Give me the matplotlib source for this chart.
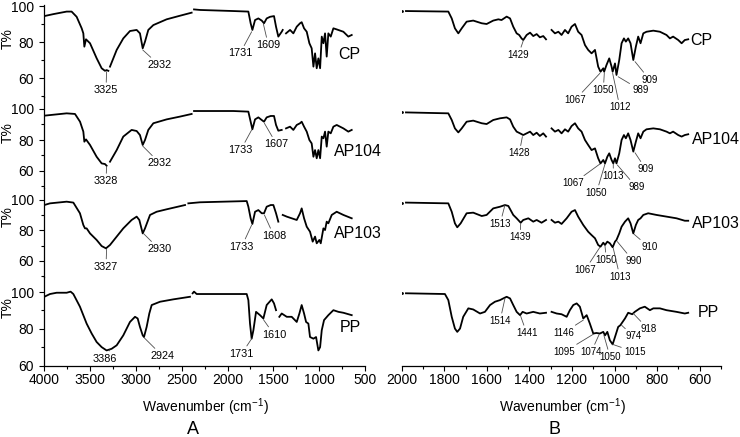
import numpy as np
import matplotlib.pyplot as plt
from matplotlib.ticker import MultipleLocator

plt.rcParams['font.family'] = ['Liberation Sans', 'DejaVu Sans']
plt.rcParams['mathtext.fontset'] = 'custom'
plt.rcParams['mathtext.rm'] = 'Liberation Sans'
plt.rcParams['mathtext.it'] = 'Liberation Sans'
plt.rcParams['mathtext.default'] = 'regular'

nan = np.nan
samples = ['CP', 'AP104', 'AP103', 'PP']

# ---- panel A: 4000-650 cm-1 ----
wn_a_cp = [4000, 3900, 3756, 3702, 3647, 3592, 3574, 3563, 3545, 3501, 3429, 3374, 3338, 3320, 3301, nan,
           3283, 3210, 3138, 3065, 2992, 2956, 2926, 2901, 2865, 2810, 2665, 2519, 2392, nan, 2366, 2300,
           1937, 1773, 1748, 1729, 1700, 1664, 1627, 1602, 1573, 1536, 1493, 1471, 1446, 1409, 1398, nan,
           1362, 1318, 1282, 1245, 1209, 1191, 1165, 1136, 1107, 1082, 1063, 1045, 1027, 1009, 990, 972,
           954, 936, 918, 900, 874, 845, 809, 736, 682, 645]
t_a_cp = [94.4, 95.5, 96.9, 96.9, 94.0, 87.6, 84.8, 77.4, 81.5, 79.3, 71.0, 65.4, 64.0, 64.4, 64.0, nan,
          66.3, 75.6, 82.0, 86.1, 86.7, 84.8, 76.5, 80.2, 86.7, 89.4, 92.6, 94.6, 96.3, nan, 98.1, 97.8,
          97.2, 96.9, 90.4, 86.7, 92.2, 93.1, 91.9, 90.4, 93.1, 94.0, 94.4, 88.5, 83.0, 85.7, 86.7, nan,
          84.8, 86.7, 84.8, 88.5, 90.4, 91.0, 87.6, 85.7, 79.3, 76.5, 66.3, 73.7, 65.4, 70.9, 65.4, 83.0,
          79.3, 84.8, 71.9, 84.8, 83.0, 87.6, 87.0, 85.7, 83.0, 83.9]

wn_a_ap104 = [4000, 3756, 3665, 3610, 3574, 3563, 3545, 3501, 3429, 3374, 3338, 3320, nan, 3283, 3210,
              3138, 3047, 2992, 2956, 2926, 2901, 2865, 2810, 2665, 2519, 2392, nan, 2366, 1937, 1773,
              1748, 1729, 1700, 1664, 1627, 1602, 1573, 1529, 1493, 1471, 1446, 1409, nan, 1362, 1318,
              1282, 1245, 1209, 1191, 1165, 1136, 1107, 1082, 1063, 1045, 1027, 1009, 990, 972, 954,
              936, 918, 900, 874, 845, 809, 736, 682, 645]
t_a_ap104 = [95.7, 97.2, 96.8, 91.8, 85.4, 78.9, 80.4, 76.8, 69.2, 64.9, 64.5, 63.4, nan, 66.0, 73.5,
             82.2, 86.5, 85.8, 83.2, 76.8, 80.0, 86.5, 90.8, 93.3, 95.1, 96.8, nan, 98.7, 98.7, 98.3,
             91.8, 86.9, 93.3, 94.6, 92.9, 91.8, 94.6, 95.5, 95.5, 89.7, 86.0, 86.5, nan, 87.5, 88.6,
             86.5, 89.7, 90.8, 91.8, 88.6, 85.4, 80.0, 77.8, 69.2, 73.5, 68.2, 73.5, 68.2, 82.2, 81.1,
             85.4, 75.7, 85.4, 84.3, 88.6, 89.7, 87.5, 85.4, 86.5]

wn_a_ap103 = [4000, 3938, 3756, 3683, 3611, 3574, 3556, 3538, 3501, 3429, 3374, 3327, 3283, 3210, 3138,
              3047, 2992, 2963, 2926, 2901, 2846, 2774, 2665, 2464, nan, 2428, 2301, 1791, 1773, 1748,
              1729, 1700, 1664, 1627, 1602, 1573, 1529, 1500, 1471, 1446, nan, 1398, 1354, 1300, 1245,
              1209, 1191, 1165, 1136, 1100, 1071, 1045, 1027, 998, 983, 954, 936, 918, 900, 863,
              809, 736, 645]
t_a_ap103 = [96.7, 97.8, 98.9, 98.3, 91.3, 83.6, 81.4, 81.4, 78.1, 73.8, 69.8, 68.3, 70.5, 76.0, 81.4,
             86.9, 89.1, 86.9, 78.1, 81.4, 90.2, 92.3, 93.9, 96.7, nan, 97.8, 98.5, 99.3, 95.6, 88.0,
             84.3, 92.3, 93.4, 91.3, 91.3, 95.6, 96.7, 96.7, 91.3, 85.8, nan, 90.2, 89.1, 88.0, 86.9,
             91.3, 94.5, 88.0, 82.5, 79.2, 72.7, 76.0, 71.6, 73.8, 71.6, 81.4, 80.3, 85.8, 84.7, 90.2,
             92.3, 90.2, 88.0]

wn_a_pp = [4000, 3938, 3865, 3756, 3713, 3683, 3611, 3538, 3483, 3429, 3374, 3320, 3265, 3210, 3138,
           3065, 3010, 2981, 2956, 2926, 2912, 2883, 2854, 2828, 2737, 2592, 2410, nan, 2381, 2366,
           2337, 1791, 1773, 1755, 1737, 1718, 1689, 1646, 1609, 1573, 1518, 1493, 1471, nan, 1435,
           1409, 1354, 1300, 1245, 1216, 1191, 1165, 1143, 1118, 1100, 1063, 1034, 1009, 990, 972,
           947, 900, 845, 790, 736, 645]
t_a_pp = [97.4, 98.9, 99.6, 99.6, 100.2, 98.9, 92.0, 82.8, 77.4, 72.8, 70.0, 68.2, 69.1, 71.0, 76.4,
          83.7, 86.5, 85.6, 81.0, 76.4, 75.5, 81.0, 88.3, 92.9, 94.7, 96.0, 97.4, nan, 99.3, 100.2,
          98.9, 98.9, 95.6, 82.8, 74.6, 79.2, 89.2, 87.4, 85.6, 92.9, 96.0, 93.8, 90.1, nan, 86.5,
          88.3, 86.5, 86.5, 83.7, 88.3, 92.9, 88.3, 83.7, 82.8, 75.5, 74.6, 75.5, 68.2, 70.0, 79.2,
          84.7, 87.4, 90.1, 89.2, 88.7, 87.4]

# ---- panel B: 2000-650 cm-1 ----
wn_b_cp = [2000, nan, 1980, 1781, 1765, 1750, 1734, 1718, 1695, 1664, 1624, 1601, 1570, 1546, 1531,
           1507, 1491, 1476, 1460, 1448, 1437, 1429, 1413, 1397, 1382, 1366, 1351, 1335, 1322, nan,
           1296, 1280, 1264, 1249, 1233, 1218, 1202, 1186, 1171, 1155, 1139, 1124, 1108, 1092, 1077,
           1066, 1053, 1049, 1038, 1025, 1014, 1009, 998, 991, 978, 967, 956, 947, 936, 925,
           912, 900, 889, 878, 865, 850, 818, 787, 756, 740, 725, 701, 685, 670, 654]
t_b_cp = [97.2, nan, 97.2, 96.9, 93.1, 87.6, 84.8, 87.6, 91.3, 91.9, 90.4, 90.0, 91.9, 92.6, 92.2,
          94.1, 93.1, 88.5, 84.8, 83.9, 82.0, 81.1, 83.9, 85.2, 83.3, 84.4, 82.6, 83.3, 81.5, nan,
          86.7, 84.8, 85.7, 83.9, 86.7, 84.8, 88.5, 90.0, 85.7, 83.9, 78.3, 75.6, 73.7, 75.6, 66.3,
          63.5, 65.4, 63.5, 67.2, 70.9, 66.3, 63.5, 68.1, 61.7, 70.0, 79.3, 82.0, 80.2, 82.0, 79.3,
          70.0, 77.4, 83.0, 79.3, 84.8, 85.7, 86.3, 85.7, 83.9, 82.0, 83.0, 81.1, 79.3, 81.1, 81.5]

wn_b_ap104 = [2000, nan, 1980, 1781, 1765, 1750, 1734, 1718, 1695, 1664, 1624, 1601, 1570, 1538, 1507,
              1491, 1476, 1460, 1444, 1429, 1413, 1397, 1382, 1366, 1351, 1335, 1322, nan, 1296, 1280,
              1264, 1249, 1233, 1218, 1202, 1186, 1171, 1155, 1139, 1124, 1108, 1092, 1077, 1066, 1053,
              1045, 1034, 1025, 1014, 1006, 998, 991, 978, 967, 956, 947, 936, 925, 912, 900,
              889, 878, 865, 850, 818, 787, 756, 740, 725, 701, 685, 670, 654]
t_b_ap104 = [97.8, nan, 97.8, 97.2, 92.9, 87.5, 84.9, 87.5, 91.8, 92.5, 90.8, 90.3, 92.9, 94.0, 94.6,
             93.3, 88.6, 85.4, 84.3, 83.2, 84.3, 85.4, 83.2, 84.7, 82.6, 84.3, 82.2, nan, 87.5, 85.4,
             86.5, 84.3, 86.9, 85.4, 89.0, 90.8, 87.5, 85.4, 80.0, 76.8, 73.5, 74.6, 68.2, 64.9, 67.1,
             64.9, 69.2, 71.4, 67.1, 64.9, 68.2, 64.9, 71.4, 80.0, 83.2, 81.1, 84.3, 80.0, 72.5, 78.9,
             84.3, 81.1, 85.4, 86.9, 87.5, 86.9, 85.4, 84.3, 85.4, 83.2, 82.2, 83.2, 83.7]

wn_b_ap103 = [2000, nan, 1980, 1781, 1765, 1750, 1739, 1723, 1695, 1664, 1624, 1601, 1570, 1538, 1515,
              1499, 1476, 1460, 1441, 1429, 1405, 1382, 1366, 1343, 1322, nan, 1296, 1280, 1264, 1249,
              1225, 1202, 1186, 1171, 1147, 1124, 1108, 1092, 1077, 1066, 1053, 1045, 1034, 1022, 1009,
              998, 991, 978, 967, 951, 936, 925, 912, 900, 889, 878, 865, 842, 803, 756,
              709, 670, 654]
t_b_ap103 = [98.3, nan, 98.3, 97.8, 92.3, 84.7, 82.1, 84.7, 91.3, 91.7, 89.5, 90.2, 94.5, 95.6, 96.7,
             96.1, 90.2, 88.0, 85.1, 86.9, 88.0, 85.8, 86.9, 85.1, 86.9, nan, 86.9, 85.1, 85.8, 84.3,
             88.0, 92.3, 93.4, 89.1, 83.6, 79.2, 77.0, 74.9, 70.5, 69.4, 72.0, 70.5, 72.7, 71.6, 69.0,
             72.7, 73.8, 78.1, 82.5, 85.8, 88.0, 84.7, 78.1, 83.6, 86.9, 88.0, 90.2, 91.3, 90.2, 89.1,
             88.0, 86.4, 86.4]

wn_b_pp = [2000, nan, 1980, 1797, 1781, 1765, 1750, 1739, 1726, 1711, 1687, 1664, 1632, 1609, 1585,
           1562, 1538, 1523, 1507, 1491, 1476, 1460, 1444, 1432, 1413, 1382, 1351, 1322, nan, 1296,
           1272, 1249, 1225, 1210, 1194, 1178, 1163, 1147, 1131, 1116, 1100, 1085, 1069, 1053, 1045,
           1034, 1022, 1009, 998, 983, 973, 951, 936, 917, 905, 881, 858, 834, 818, 787,
           756, 709, 670, 654]
t_b_pp = [99.3, nan, 99.3, 98.9, 95.6, 86.5, 80.1, 78.3, 80.1, 86.5, 91.1, 90.5, 88.3, 89.2, 92.9,
          94.7, 95.6, 96.5, 97.4, 96.5, 92.9, 89.2, 87.4, 89.2, 88.3, 89.2, 88.3, 88.7, nan, 89.2,
          88.3, 87.9, 86.5, 90.1, 92.9, 93.8, 92.0, 85.6, 87.4, 82.8, 77.4, 77.7, 77.4, 78.3, 76.4,
          78.3, 73.7, 71.5, 75.5, 81.0, 81.9, 85.6, 88.7, 87.9, 89.2, 91.1, 92.0, 90.1, 91.1, 91.1,
          90.1, 89.2, 88.3, 88.7]

# peak labels: (text, peak wn, peak T, label wn, label T)
peaks_a = [
    [('3325', 3320, 63.5, 3327, 53.3), ('2932', 2926, 75.6, 2745, 67.2),
     ('1731', 1737, 85.7, 1864, 73.7), ('1609', 1609, 90.0, 1555, 78.3)],
    [('3328', 3320, 62.8, 3327, 53.5), ('2932', 2926, 76.1, 2737, 64.9),
     ('1733', 1737, 86.5, 1857, 73.5), ('1607', 1598, 90.8, 1464, 77.2)],
    [('3327', 3320, 67.7, 3327, 56.3), ('2930', 2919, 78.1, 2745, 67.7),
     ('1733', 1737, 83.6, 1846, 69.4), ('1608', 1598, 90.2, 1493, 76.4)],
    [('3386', 3283, 68.6, 3345, 63.7), ('2924', 2912, 75.2, 2708, 65.1),
     ('1731', 1737, 74.6, 1846, 66.4), ('1610', 1609, 85.0, 1493, 76.8)],
]
peaks_b = [
    [('1429', 1429, 80.7, 1452, 72.8), ('1067', 1069, 62.6, 1186, 47.8),
     ('1050', 1048, 63.0, 1053, 53.3), ('1012', 1009, 62.6, 975, 43.7),
     ('989', 983, 60.7, 878, 53.3), ('909', 904, 69.1, 834, 58.9)],
    [('1428', 1433, 82.2, 1448, 71.4), ('1067', 1069, 64.5, 1194, 52.0),
     ('1050', 1045, 64.5, 1085, 46.0), ('1013', 1006, 64.5, 1006, 56.8),
     ('989', 987, 63.9, 897, 49.5), ('909', 904, 71.8, 853, 61.1)],
    [('1513', 1515, 96.7, 1538, 84.3), ('1439', 1441, 84.7, 1444, 75.5),
     ('1067', 1069, 69.0, 1139, 54.1), ('1050', 1045, 69.8, 1038, 60.7),
     ('1013', 1006, 68.3, 975, 49.7), ('990', 987, 72.7, 912, 60.0),
     ('910', 908, 77.5, 837, 69.0)],
    [('1514', 1515, 96.5, 1538, 84.3), ('1441', 1441, 86.8, 1413, 77.7),
     ('1146', 1147, 84.7, 1241, 77.7), ('1095', 1100, 77.0, 1238, 67.3),
     ('1074', 1072, 77.0, 1110, 67.3), ('1050', 1050, 76.4, 1021, 64.6),
     ('1015', 1009, 71.5, 905, 67.3), ('974', 967, 81.9, 910, 75.8),
     ('918', 912, 88.3, 842, 79.8)],
]

spectra = [
    [(wn_a_cp, t_a_cp), (wn_a_ap104, t_a_ap104), (wn_a_ap103, t_a_ap103), (wn_a_pp, t_a_pp)],
    [(wn_b_cp, t_b_cp), (wn_b_ap104, t_b_ap104), (wn_b_ap103, t_b_ap103), (wn_b_pp, t_b_pp)],
]
name_pos = [[(790, 72.8), (834, 72.5), (834, 78.2), (779, 80.6)],
            [(646, 81.1), (638, 80.4), (638, 84.7), (607, 88.7)]]
peaks = [peaks_a, peaks_b]
peak_size = [7.8, 7.0]

W, H = 740, 437
fig = plt.figure(figsize=(W / 100, H / 100), dpi=100)

# strips in pixels: y of the 100 tick, px per %T, top, bottom
rows = [(6, 1.8, 5, 97), (109, 1.55, 97, 188), (200, 1.525, 188, 277), (292, 1.8375, 277, 365.5)]
panels = [(44.3, 365.0, 4000, 500, 500, 250), (401.7, 721.0, 2000, 500, 200, 100)]

for p, (x0, x1, xa, xb, major, minor) in enumerate(panels):
    for r, (y100, s, top, bot) in enumerate(rows):
        ax = fig.add_axes([x0 / W, 1 - bot / H, (x1 - x0) / W, (bot - top) / H])
        ax.set_facecolor('none')
        ax.set_xlim(xa, xb)
        ax.set_ylim(100 - (bot - y100) / s, 100 + (y100 - top) / s)
        wn, t = spectra[p][r]
        ax.plot(np.array(wn, float), np.array(t, float), color='black', lw=1.3,
                solid_joinstyle='round')
        if p == 1:
            ax.plot(wn[0], t[0], 'k.', ms=2)
        for lab, xw, xv, tw, tv in peaks[p][r]:
            ax.annotate(lab, xy=(xw, xv), xytext=(tw, tv), fontsize=peak_size[p],
                        ha='center', va='center',
                        arrowprops=dict(arrowstyle='-', color='0.3', lw=0.6, shrinkA=0, shrinkB=0))
        nx, ny = name_pos[p][r]
        ax.text(nx, ny, samples[r], fontsize=11.5, ha='left', va='center')

        for side in ['top', 'right']:
            ax.spines[side].set_visible(False)
        ax.spines['bottom'].set_visible(r == 3)
        ax.spines['left'].set_visible(p == 0)
        for sp in ax.spines.values():
            sp.set_linewidth(0.9)

        ax.xaxis.set_major_locator(MultipleLocator(major))
        ax.xaxis.set_minor_locator(MultipleLocator(minor))
        ax.set_yticks([60, 80, 100])
        ax.yaxis.set_minor_locator(MultipleLocator(10))
        ax.tick_params(which='major', direction='out', length=3.6, width=0.8, labelsize=10)
        ax.tick_params(which='minor', direction='out', length=2.2, width=0.8)
        ax.tick_params(axis='x', pad=1.5)
        ax.tick_params(axis='y', pad=4)
        if r != 3:
            ax.tick_params(axis='x', which='both', bottom=False, labelbottom=False)
        if p == 1:
            ax.tick_params(axis='y', which='both', left=False, labelleft=False)

for y in [39, 133, 217, 308]:
    fig.text(8 / W, 1 - y / H, 'T%', rotation=90, fontsize=10, ha='center', va='center')

fig.text(205 / W, 1 - 407 / H, 'Wavenumber (cm$^{-1}$)', fontsize=10, ha='center', va='center')
fig.text(562 / W, 1 - 407 / H, 'Wavenumber (cm$^{-1}$)', fontsize=10, ha='center', va='center')
fig.text(193 / W, 1 - 430 / H, 'A', fontsize=13, ha='center', va='center')
fig.text(554 / W, 1 - 430 / H, 'B', fontsize=13, ha='center', va='center')

fig.savefig('out.png', dpi=100)
